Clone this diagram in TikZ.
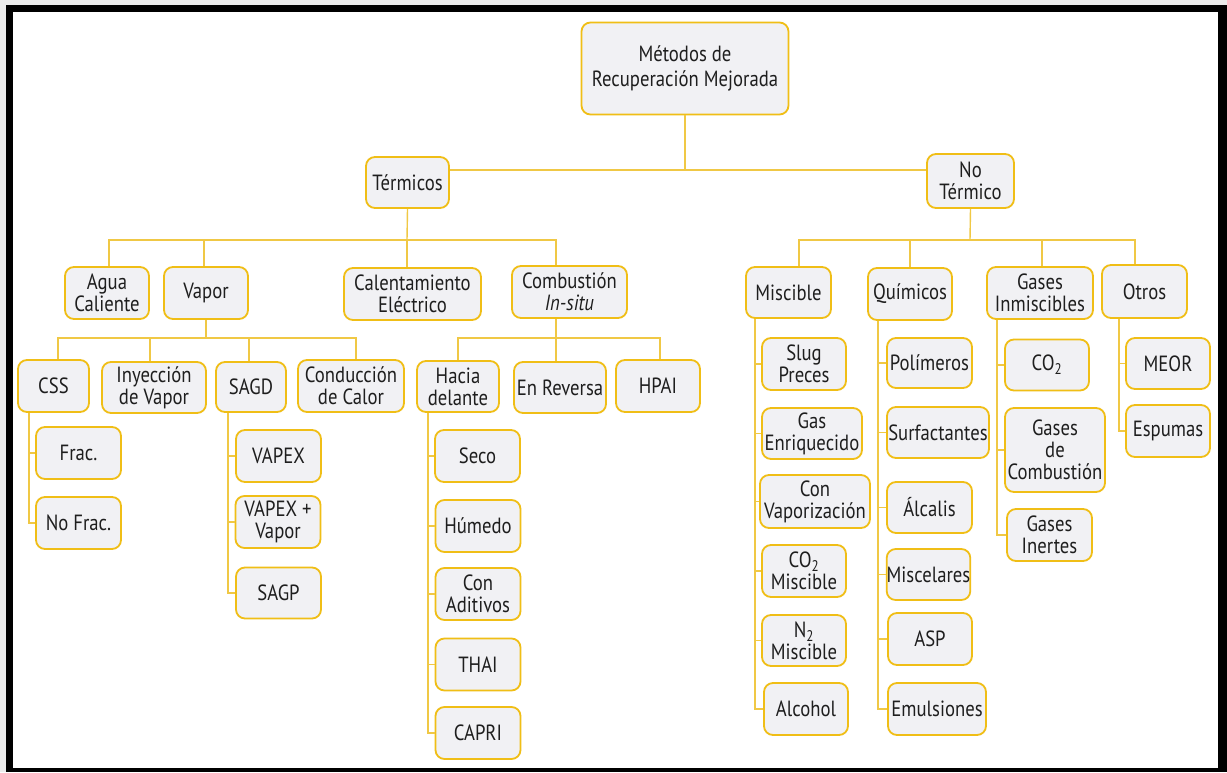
\documentclass[tikz,border=0pt]{standalone}
\usepackage{fontspec}
\setmainfont{PT Sans}[FakeStretch=0.85]
\definecolor{gold}{HTML}{F0BE16}
\definecolor{lgold}{HTML}{F0C845}
\definecolor{boxfill}{HTML}{F1F1F4}
\definecolor{txt}{HTML}{1E1E1E}
\tikzset{
  box/.style={draw=gold, line width=1.8pt, rounded corners=9pt, fill=boxfill, align=center,
    text=txt, inner sep=0pt, font=\fontsize{22}{22}\selectfont},
  link/.style={draw=lgold, line width=1.4pt},
}
\newcommand\mybox[5]{\node[box, minimum width=#3pt, minimum height=#4pt] (#1) at (#2) {#5};}
\begin{document}
\begin{tikzpicture}[x=1pt,y=-1pt]
\fill[black!8] (0,0) rectangle (1227,772);
\fill[black] (6,5) rectangle (1227,772);
\fill[white] (13,12) rectangle (1218,768);
\useasboundingbox (0,0) rectangle (1227,772);

\node[box, minimum width=207pt, minimum height=92pt, font=\fontsize{22}{25}\selectfont] (root) at (685,68.5) {Métodos de\\Recuperación Mejorada};
\mybox{term}{407.5,182.5}{83}{51}{Térmicos}
\mybox{noterm}{970.5,181}{87}{54}{No\\Térmico}
\mybox{agua}{107,293}{84}{52}{Agua\\Caliente}
\mybox{vapor}{206,293}{84}{52}{Vapor}
\mybox{calent}{412.5,294}{137}{52}{Calentamiento\\Eléctrico}
\mybox{comb}{569.5,292}{115}{52}{Combustión\\\textit{In-situ}}
\mybox{css}{53.5,386}{71}{52}{CSS}
\mybox{inyec}{154,387.5}{104}{51}{Inyección\\de Vapor}
\mybox{sagd}{251,387}{70}{50}{SAGD}
\mybox{cond}{351,386}{106}{52}{Conducción\\de Calor}
\mybox{hacia}{458,386.5}{82}{51}{Hacia\\delante}
\mybox{rev}{560,387.5}{92}{51}{En Reversa}
\mybox{hpai}{658,386}{84}{52}{HPAI}
\mybox{frac}{78.5,453}{85}{52}{Frac.}
\mybox{nofrac}{78.5,523}{85}{52}{No Frac.}
\mybox{vapex}{278.5,456}{85}{52}{VAPEX}
\mybox{vapexv}{278,522}{85}{52}{VAPEX +\\Vapor}
\mybox{sagp}{278.5,593}{85}{51}{SAGP}
\mybox{seco}{477.5,456}{85}{52}{Seco}
\mybox{humedo}{478,526}{85}{52}{Húmedo}
\mybox{aditivos}{478,594}{85}{52}{Con\\Aditivos}
\mybox{thai}{478,664.5}{85}{52}{THAI}
\mybox{capri}{478,733}{85}{52}{CAPRI}
\mybox{miscible}{788.5,292.5}{85}{51}{Miscible}
\mybox{quimicos}{910,294}{84}{52}{Químicos}
\mybox{gasesinm}{1040,293}{106}{52}{Gases\\Inmiscibles}
\mybox{otros}{1144.5,291.5}{85}{53}{Otros}
\mybox{slug}{804,364}{84}{52}{Slug\\Preces}
\mybox{gasenr}{812,433.5}{100}{51}{Gas\\Enriquecido}
\mybox{conv}{815,501.5}{110}{53}{Con\\Vaporización}
\mybox{co2m}{804,571}{84}{52}{CO\textsubscript{2}\\Miscible}
\mybox{n2m}{804,640.5}{84}{51}{N\textsubscript{2}\\Miscible}
\mybox{alcohol}{806,709}{84}{52}{Alcohol}
\mybox{polim}{929.5,363}{85}{50}{Polímeros}
\mybox{surf}{938,432.5}{102}{51}{Surfactantes}
\mybox{alcalis}{929.5,507.5}{85}{51}{Álcalis}
\mybox{miscel}{928.5,574.5}{83}{51}{Miscelares}
\mybox{asp}{930,639}{84}{52}{ASP}
\mybox{emuls}{937,709}{98}{52}{Emulsiones}
\mybox{co2g}{1047,365}{84}{51}{CO\textsubscript{2}}
\mybox{gcomb}{1055,450}{100}{84}{Gases\\de\\Combustión}
\mybox{ginert}{1049.5,535}{85}{52}{Gases\\Inertes}
\mybox{meor}{1168,363.5}{84}{51}{MEOR}
\mybox{espumas}{1168,431}{84}{52}{Espumas}

% top level
\coordinate (busA) at (685,170);
\draw[link] (root.south) -- (busA);
\draw[link] (term.east |- busA) -- (noterm.west |- busA);

% Termicos
\coordinate (busT) at (407,240);
\draw[link] (term.south) -- (busT);
\draw[link] ([xshift=2pt]agua.north) |- (busT);
\draw[link] ([xshift=-2pt]vapor.north) |- (busT);
\draw[link] (calent.north -| busT) -- (busT);
\draw[link] ([xshift=-13.5pt]comb.north) |- (busT);

% Vapor
\coordinate (busV) at (206,338);
\draw[link] (vapor.south) -- (busV);
\draw[link] ([xshift=4.5pt]css.north) |- (busV);
\draw[link] ([xshift=-4pt]inyec.north) |- (busV);
\draw[link] ([xshift=-2pt]sagd.north) |- (busV);
\draw[link] ([xshift=5pt]cond.north) |- (busV);

% Combustion
\coordinate (busC) at (556,338);
\draw[link] ([xshift=-13.5pt]comb.south) -- (busC);
\draw[link] (hacia.north) |- (busC);
\draw[link] ([xshift=-4pt]rev.north) |- (busC);
\draw[link] ([xshift=2pt]hpai.north) |- (busC);

% No termico
\coordinate (busN) at (970,240);
\draw[link] (noterm.south) -- (busN);
\draw[link] ([xshift=10.5pt]miscible.north) |- (busN);
\draw[link] (quimicos.north) |- (busN);
\draw[link] ([xshift=2pt]gasesinm.north) |- (busN);
\draw[link] ([xshift=-9.5pt]otros.north) |- (busN);

% vertical lists
\foreach \c in {frac,nofrac} \draw[link] ([xshift=12pt]css.south west) |- (\c.west);
\foreach \c in {vapex,vapexv,sagp} \draw[link] ([xshift=13pt]sagd.south west) |- (\c.west);
\foreach \c in {seco,humedo,aditivos,thai,capri} \draw[link] ([xshift=12pt]hacia.south west) |- (\c.west);
\foreach \c in {slug,gasenr,conv,co2m,n2m,alcohol} \draw[link] ([xshift=10pt]miscible.south west) |- (\c.west);
\foreach \c in {polim,surf,alcalis,miscel,asp,emuls} \draw[link] ([xshift=11pt]quimicos.south west) |- (\c.west);
\foreach \c in {co2g,gcomb,ginert} \draw[link] ([xshift=11pt]gasesinm.south west) |- (\c.west);
\foreach \c in {meor,espumas} \draw[link] ([xshift=18pt]otros.south west) |- (\c.west);
\end{tikzpicture}
\end{document}
